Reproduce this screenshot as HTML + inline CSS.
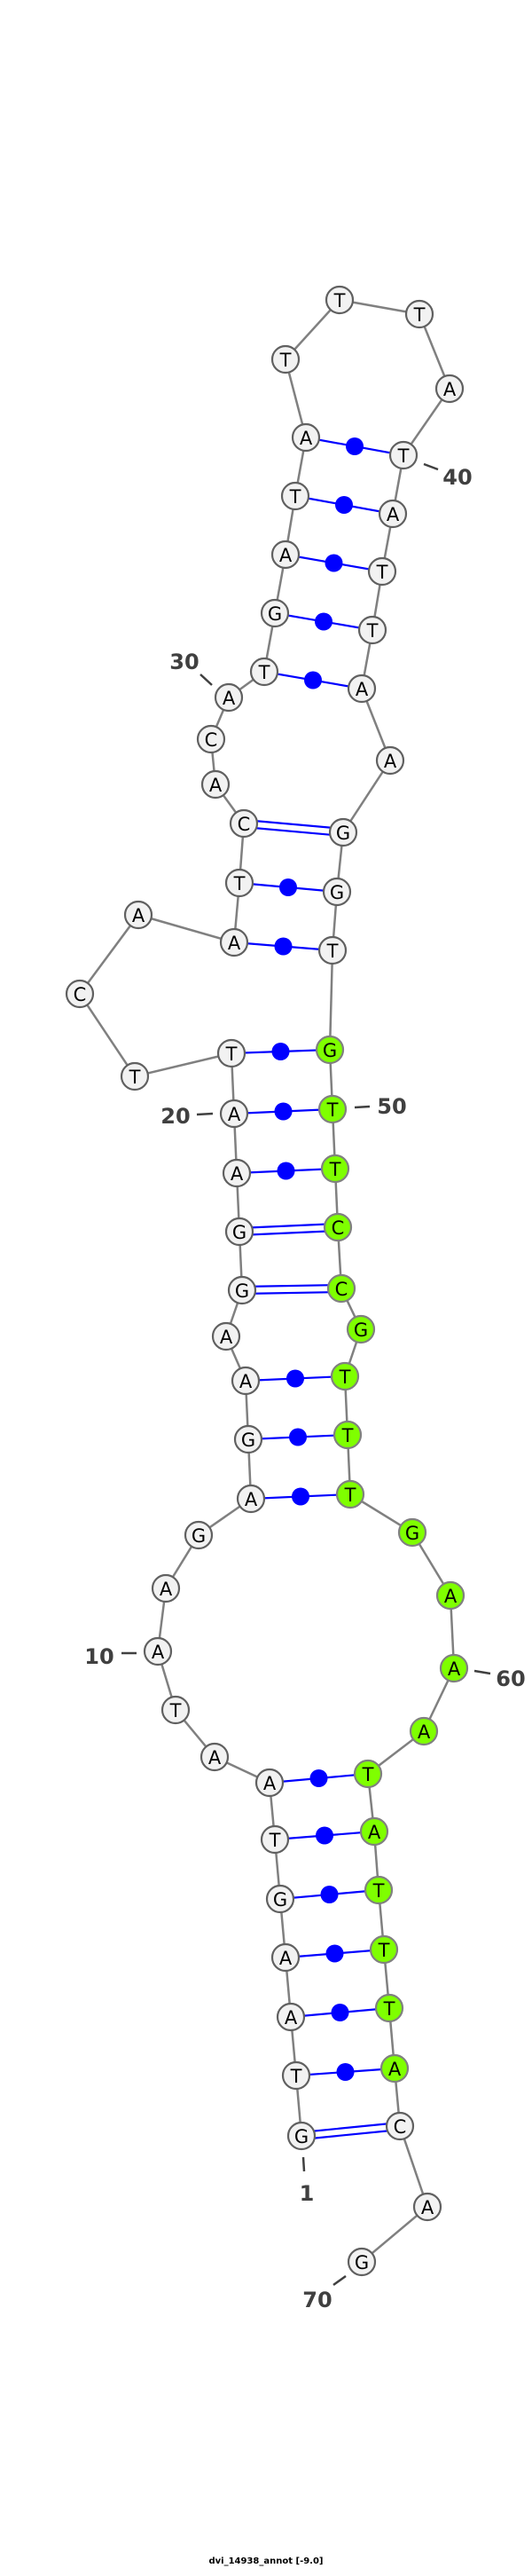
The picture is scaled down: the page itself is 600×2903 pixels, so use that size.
<!DOCTYPE html>
<html><head><meta charset="utf-8"><style>html,body{margin:0;padding:0;background:#fff}svg{display:block}</style></head>
<body>
<svg width="600" height="2903" viewBox="0 0 600 2903" xmlns="http://www.w3.org/2000/svg" id="s">
<g id="bb" stroke="#808080" stroke-width="2.5" fill="none"></g>
<g id="pr"></g>
<g id="nd"></g>
<g fill="#404040" font-family="'DejaVu Sans','Liberation Sans',sans-serif" font-size="24" font-weight="bold" text-anchor="middle" dominant-baseline="central">
<text x="208" y="746">30</text><text x="516" y="538">40</text><text x="198" y="1258">20</text><text x="442" y="1247">50</text>
<text x="112" y="1867">10</text><text x="576" y="1892">60</text><text x="346" y="2472">1</text><text x="358" y="2592">70</text>
</g>
<g stroke="#404040" stroke-width="2.5">
<line x1="226" y1="760" x2="239" y2="772"/><line x1="478" y1="523" x2="494" y2="529"/>
<line x1="222" y1="1256" x2="240" y2="1255"/><line x1="400" y1="1248" x2="417" y2="1247"/>
<line x1="137" y1="1863" x2="154" y2="1863"/><line x1="535" y1="1883" x2="553" y2="1886"/>
<line x1="342" y1="2431" x2="343" y2="2447"/><line x1="376" y1="2575" x2="390" y2="2565"/>
</g>
<text x="300" y="2889" font-family="'DejaVu Sans','Liberation Sans',sans-serif" font-size="10" font-weight="bold" text-anchor="middle" fill="#000">dvi_14938_annot [-9.0]</text>
</svg>
<script>
var N=[["G",340,2407],["T",334,2339],["A",328,2273],["A",322,2206],["G",316,2140],["T",310,2073],["A",304,2009],["A",242,1980],["T",198,1927],["A",178,1861],["A",187,1790],["G",224,1730],["A",283,1689],["G",280,1622],["A",277,1556],["A",255,1506],["G",273,1454],["G",270,1388],["A",267,1322],["A",264,1255],["T",261,1187],["T",152,1213],["C",90,1120],["A",156,1031],["A",264,1062],["T",270,995],["C",275,928],["A",243,884],["C",238,833],["A",258,786],["T",298,757],["G",310,691],["A",322,625],["T",333,559],["A",345,493],["T",322,405],["T",383,338],["T",473,354],["A",507,438],["T",455,513],["A",443,579],["T",431,644],["T",420,710],["A",408,776],["A",440,857],["G",387,938],["G",380,1005],["T",375,1071],["G",372,1183],["T",375,1250],["T",378,1317],["C",381,1383],["C",385,1452],["G",407,1498],["T",389,1551],["T",392,1617],["T",395,1684],["G",465,1727],["A",508,1798],["A",512,1880],["A",478,1951],["T",415,1999],["A",422,2064],["T",427,2130],["T",433,2197],["T",439,2263],["A",445,2331],["C",451,2396],["A",482,2487],["G",408,2549]];
var P=[[1,68],[2,67],[3,66],[4,65],[5,64],[6,63],[7,62],[13,57],[14,56],[15,55],[17,53],[18,52],[19,51],[20,50],[21,49],[25,48],[26,47],[27,46],[31,44],[32,43],[33,42],[34,41],[35,40]];
var ns="http://www.w3.org/2000/svg";
function el(t,a,p){var e=document.createElementNS(ns,t);for(var k in a)e.setAttribute(k,a[k]);p.appendChild(e);return e;}
var bb=document.getElementById("bb"),pr=document.getElementById("pr"),nd=document.getElementById("nd");
var d="M"+N[0][1]+" "+N[0][2];for(var i=1;i<N.length;i++)d+=" L"+N[i][1]+" "+N[i][2];
el("path",{d:d},bb);
P.forEach(function(p){var a=N[p[0]-1],b=N[p[1]-1];var s=a[0]+b[0];
if(s=="GC"||s=="CG"){var dx=b[1]-a[1],dy=b[2]-a[2],L=Math.hypot(dx,dy),ox=-dy/L*4,oy=dx/L*4;
[1,-1].forEach(function(k){el("line",{x1:a[1]+ox*k,y1:a[2]+oy*k,x2:b[1]+ox*k,y2:b[2]+oy*k,stroke:"#0000ff","stroke-width":2.2},pr);});}
else{el("line",{x1:a[1],y1:a[2],x2:b[1],y2:b[2],stroke:"#0000ff","stroke-width":2.2},pr);
el("circle",{cx:(a[1]+b[1])/2,cy:(a[2]+b[2])/2,r:10,fill:"#0000ff"},pr);}});
N.forEach(function(n,i){var g=(i>=48&&i<=66);
el("circle",{cx:n[1],cy:n[2],r:15,fill:g?"#7fff00":"#f2f2f2",stroke:g?"#808080":"#606060","stroke-width":2.2},nd);
var t=el("text",{x:n[1],y:n[2]+1,"text-anchor":"middle","dominant-baseline":"central","font-family":"'DejaVu Sans','Liberation Sans',sans-serif","font-size":21,fill:"#000"},nd);t.textContent=n[0];});
</script>
</body></html>
